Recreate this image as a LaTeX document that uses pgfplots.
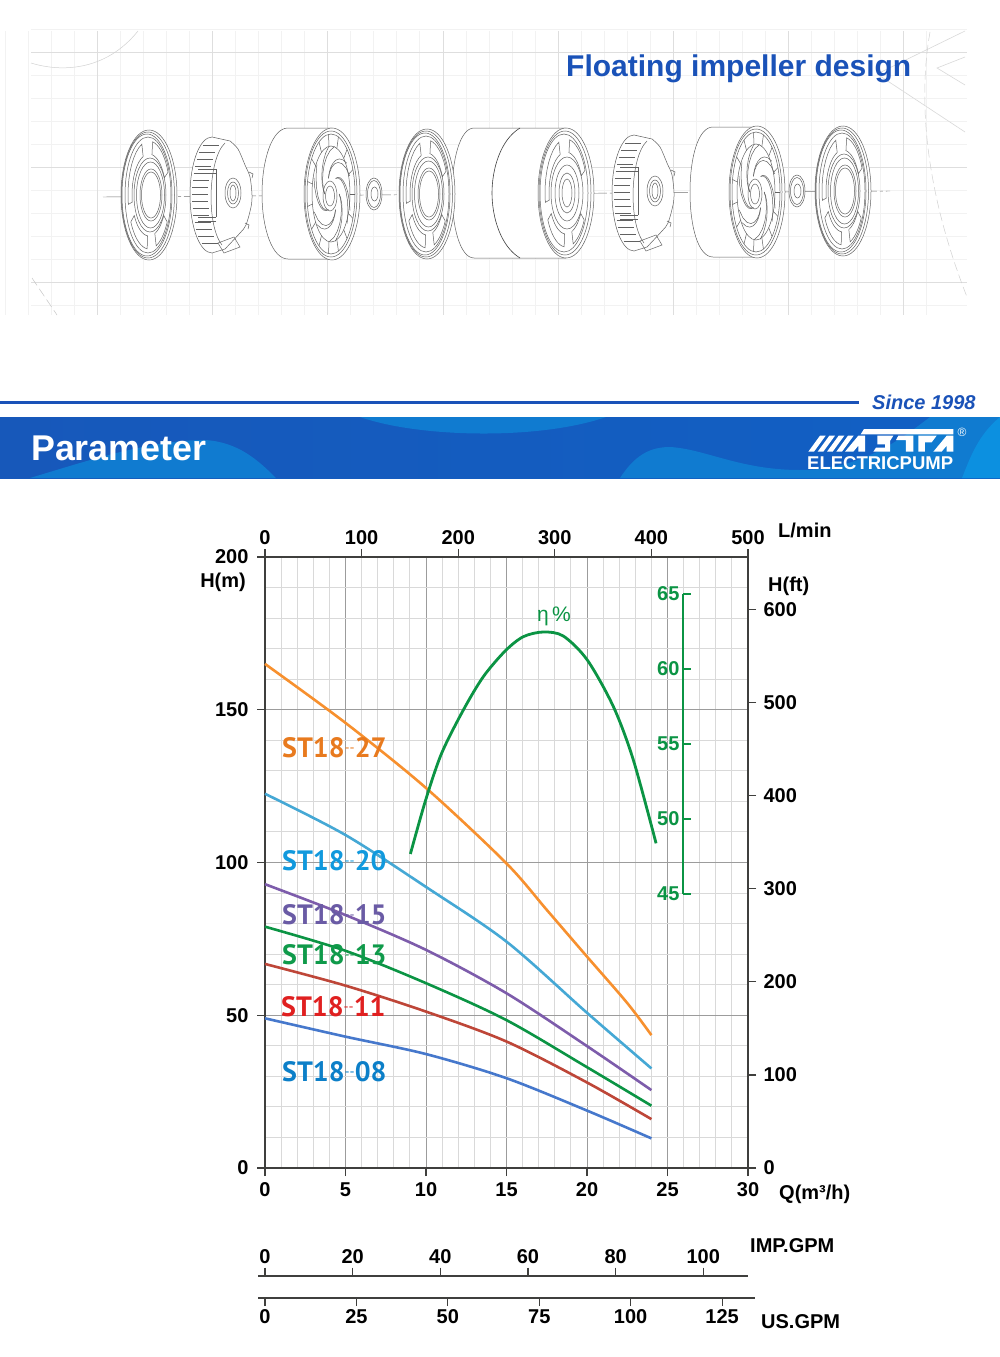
\documentclass[border=0pt]{standalone}
\usepackage{fontspec}
\setmainfont{Liberation Sans}
\newfontfamily\ptsans{PT Sans}
\usepackage{pgfplots}
\pgfplotsset{compat=1.18}
\definecolor{axdark}{HTML}{3F3F3D}
\definecolor{gmaj}{HTML}{9C9C9C}
\definecolor{gmin}{HTML}{D9D9D9}
\definecolor{cOr}{HTML}{F7902E}
\definecolor{cLb}{HTML}{45A8D5}
\definecolor{cPu}{HTML}{7D5CAB}
\definecolor{cGr}{HTML}{0B9444}
\definecolor{cRe}{HTML}{BE4638}
\definecolor{cBl}{HTML}{4678CC}
\definecolor{tOr}{HTML}{E87A1E}
\definecolor{tLb}{HTML}{1199DD}
\definecolor{tPu}{HTML}{6A5BA5}
\definecolor{tGr}{HTML}{0F9A4A}
\definecolor{tRe}{HTML}{E02020}
\definecolor{tBl}{HTML}{0C7FC8}
\definecolor{brand}{HTML}{1A52B8}
\definecolor{bandA}{HTML}{1758BA}
\definecolor{bandB}{HTML}{0F45B0}
\definecolor{bandC}{HTML}{1160C4}
\definecolor{bandL}{HTML}{107BD0}
\definecolor{bandX}{HTML}{0C90E0}
\newcommand\tickf{\fontsize{20}{24}\selectfont\bfseries}
\newcommand\curvelabel[4]{\node[anchor=west,text=#1,inner sep=0pt,font=\fontsize{28}{30}\selectfont\ptsans\bfseries] at (#2,#3) {ST18\raisebox{5pt}{\fontsize{14}{14}\selectfont\mdseries --}#4};}
\tikzset{dl/.style={draw=black!62,line width=.5pt}}
% --- illustration parts, coordinates relative to part centre
\newcommand\disc[2]{\begin{scope}[shift={(#1,#2)},dl]
 \draw[fill=white] (0,0) ellipse [x radius=28,y radius=65];
 \draw (-1,0) ellipse [x radius=26.5,y radius=63];
 \draw (-2,0) ellipse [x radius=25,y radius=61];
 \draw (-1,0) ellipse [x radius=23,y radius=58];
 \draw (1,0) ellipse [x radius=16,y radius=37];
 \draw (1.5,0) ellipse [x radius=14,y radius=33];
 \draw (2,0) ellipse [x radius=11,y radius=26];
 \draw (2,0) ellipse [x radius=9.5,y radius=23];
 \foreach \a/\b in {-80/-25,30/70,95/150,170/250}{
  \draw plot[domain=\a:\b,samples=10] ({21*cos(\x)},{54*sin(\x)})
    -- plot[domain=\b:\a,samples=10] ({17*cos(\x)},{41*sin(\x)}) -- cycle;}
\end{scope}}
\newcommand\washer[2]{\begin{scope}[shift={(#1,#2)},dl]
 \draw[fill=white] (0,0) ellipse [x radius=8,y radius=16];
 \draw (0,0) ellipse [x radius=6.5,y radius=13.5];
 \draw (0.5,0) ellipse [x radius=3.5,y radius=7];
\end{scope}}
\newcommand\impeller[2]{\begin{scope}[shift={(#1,#2)},dl]
 \draw[fill=white] (0,0) ellipse [x radius=28,y radius=66];
 \draw (-1,0) ellipse [x radius=26,y radius=63];
 \draw (-1,0) ellipse [x radius=24,y radius=60];
 \draw (-1,0) ellipse [x radius=19,y radius=48];
 \draw (-2,2) ellipse [x radius=7,y radius=15];
 \draw (-2,2) ellipse [x radius=4.5,y radius=10];
 \foreach \a in {0,60,...,300}{
  \draw plot[domain=0:1,samples=8] ({(.3+.5*\x)*24*cos(\a+80*\x)},{(.3+.5*\x)*60*sin(\a+80*\x)});
  \draw plot[domain=0:1,samples=8] ({(.3+.5*\x)*24*cos(\a+98*\x)},{(.3+.5*\x)*60*sin(\a+98*\x)});}
 \foreach \a in {0,24,...,336}{
  \draw ({19*cos(\a)-1},{48*sin(\a)}) -- ({24*cos(\a)-1},{60*sin(\a)});}
\end{scope}}
\newcommand\hubfront[2]{\begin{scope}[shift={(#1,#2)},dl]
 \draw[fill=white] (0,0) ellipse [x radius=28,y radius=65];
 \draw (-1,0) ellipse [x radius=26,y radius=62];
 \draw (-2,0) ellipse [x radius=24,y radius=59];
 \draw (1,0) ellipse [x radius=16,y radius=36];
 \draw (1,0) ellipse [x radius=12,y radius=28];
 \draw (1,0) ellipse [x radius=8,y radius=20];
 \draw (1,0) ellipse [x radius=5,y radius=14];
 \foreach \a/\b in {-80/-25,30/70,95/150,170/250}{
  \draw plot[domain=\a:\b,samples=10] ({21*cos(\x)},{54*sin(\x)})
    -- plot[domain=\b:\a,samples=10] ({17*cos(\x)},{41*sin(\x)}) -- cycle;}
\end{scope}}
\newcommand\cuppart[2]{\begin{scope}[shift={(#1,#2)},dl]
 \draw[fill=white] (10,-54) -- (-8,-58) arc[start angle=-90,end angle=-270,x radius=22,y radius=58] -- (5,54)
   plot[smooth] coordinates {(5,54) (20,38) (26,30) (31,12) (32,0) (30,-18) (25,-30) (18,-46) (10,-54)};
 \draw (5,-52) .. controls (-12,-36) and (-14,30) .. (2,50);
 \draw (-4,-26) -- (-22,-26) (-4,-22) -- (-22,-22) (-4,-26) -- (-4,22) (-4,22) -- (-22,22) (-4,26) -- (-22,26);
 \foreach \y in {-50,-43,...,50}{
  \pgfmathsetmacro\xa{-8-22*sqrt(1-(\y/58)^2)+2}
  \draw (\xa,\y) -- ({\xa+16},\y);}
 \draw (13,-2) ellipse [x radius=8,y radius=15];
 \draw (13,-2) ellipse [x radius=5.5,y radius=11];
 \draw (13,-2) ellipse [x radius=3,y radius=8];
 \draw (29,-23) -- (33,-21) -- (32,-17) (25,28) -- (29,30) -- (28,34);
 \draw (-2,48) -- (14,42) -- (20,52) -- (4,58) -- cycle;
\end{scope}}
\begin{document}
\begin{tikzpicture}
\useasboundingbox (0pt,0pt) rectangle (1000pt,-1357pt);
\fill[white] (0pt,0pt) rectangle (1000pt,-1357pt);
\begin{scope}[x=1pt,y=-1pt]
 % blueprint grid
 \foreach \i in {0,...,40}{\draw[draw=black!5,line width=.5pt] ({5+\i*23.04},31) -- ({5+\i*23.04},315);}
 \foreach \i in {0,...,12}{\draw[draw=black!5,line width=.5pt] (31,{29.3+\i*23}) -- (967,{29.3+\i*23});}
 \foreach \x in {97.3,212.5,327.7,442.9,558.3,673.3,788.3,903.3}{\draw[draw=black!13,line width=.7pt] (\x,31) -- (\x,315);}
 \foreach \y in {52.3,167,282.3}{\draw[draw=black!13,line width=.7pt] (31,\y) -- (967,\y);}
 \draw[black!18,line width=.5pt] (31,63) .. controls (60,72) and (105,72) .. (138,31);
 \draw[black!22,line width=.5pt,dash pattern=on 9pt off 4pt] (32,278) -- (57,315);
 \draw[black!15,line width=.6pt] (965,31) -- (877,74) -- (965,132);
 \draw[black!15,line width=.6pt] (965,57) -- (937,68) -- (965,85);
 \draw[black!18,line width=.5pt,dash pattern=on 9pt off 4pt] (930,32) .. controls (918,100) and (925,190) .. (967,297);
 % pump parts
 \draw[black!55,line width=.45pt,dash pattern=on 18pt off 3pt on 3pt off 3pt] (103,197) -- (890,191);
 \disc{149}{195}
 \cuppart{220}{195}
 \draw[dl,fill=white] (332,128) -- (288,128) .. controls (272,128) and (262,160) .. (262,194) .. controls (262,228) and (272,259) .. (288,259) -- (332,259);
 \impeller{332}{194}
 \washer{374}{194}
 \draw[dl,fill=white] (566,128) -- (474,128) .. controls (460,128) and (452,160) .. (452,193) .. controls (452,226) and (460,258) .. (474,258) -- (566,258);
 \draw[draw=black!75,line width=.6pt] (520,128) .. controls (500,140) and (492,170) .. (492,193) .. controls (492,216) and (500,246) .. (520,258);
 \disc{427}{194}
 \hubfront{566}{193}
 \cuppart{642}{193}
 \draw[dl,fill=white] (757,127) -- (713,127) .. controls (698,127) and (690,158) .. (690,192) .. controls (690,226) and (698,257) .. (713,257) -- (757,257);
 \impeller{757}{192}
 \washer{797}{191}
 \disc{843}{191}
 % title
 \node[anchor=base west,inner sep=0pt,text=brand,font=\fontsize{30}{32}\selectfont\bfseries] at (566,76) {Floating impeller design};
 % rule and banner
 \fill[brand] (0,400.5) rectangle (859,404);
 \node[anchor=base west,inner sep=0pt,text=brand,font=\fontsize{20}{22}\selectfont\bfseries\itshape] at (872,409.5) {Since 1998};
 \shade[left color=bandA,middle color=bandB,right color=bandC] (0,417) rectangle (1000,478);
 \fill[bandL] (30,478) .. controls (90,460) and (150,440) .. (205,440) .. controls (238,442) and (258,460) .. (276,478) -- cycle;
 \fill[bandL] (360,417) .. controls (420,438) and (540,440) .. (606,417) -- cycle;
 \fill[bandL] (620,478) .. controls (635,455) and (650,447) .. (670,447) .. controls (705,449) and (740,470) .. (800,470) .. controls (860,470) and (900,440) .. (930,417) -- (1000,417) -- (1000,478) -- cycle;
 \fill[bandX] (962,478) .. controls (970,458) and (978,435) .. (1000,417) -- (1000,478) -- cycle;
 \node[anchor=base west,inner sep=0pt,text=white,font=\fontsize{35.8}{38}\selectfont\bfseries] at (31,460) {Parameter};
 \node[anchor=base west,inner sep=0pt,text=white,font=\fontsize{18.5}{20}\selectfont\bfseries] at (807,469) {ELECTRICPUMP};
 \node[anchor=center,inner sep=0pt,text=white,font=\fontsize{12}{12}\selectfont] at (962,432.5) {®};
 \begin{scope}[shift={(790,415)},x=.3333pt,y=-.3333pt]
  \foreach \d in {0,28,56,84}{\fill[white] ({55+\d},110) -- ({72+\d},110) -- ({107+\d},62) -- ({90+\d},62) -- cycle;}
  \fill[white] (165,110) -- (205,62) -- (225,62) -- (225,110) -- (205,110) -- (205,92) -- (190,110) -- cycle;
  \fill[white] (222,42) -- (490,42) -- (490,58) -- (212,58) -- cycle;
  \fill[white] (262,62) -- (310,62) -- (300,78) -- (300,110) -- (250,110) -- (258,98) -- (285,98) -- (285,88) -- (262,88) -- cycle;
  \fill[white] (325,62) -- (370,62) -- (370,110) -- (348,110) -- (348,75) -- (318,75) -- cycle;
  \fill[white] (385,62) -- (440,62) -- (425,82) -- (405,82) -- (405,110) -- (385,110) -- cycle;
  \fill[white] (430,110) -- (470,62) -- (490,62) -- (490,110) -- (470,110) -- (470,92) -- (455,110) -- cycle;
 \end{scope}
\end{scope}
% main axis: Q and H(m)
\begin{axis}[name=main,at={(265pt,-1168pt)},anchor=south west,scale only axis,width=483pt,height=611pt,
 xmin=0,xmax=30,ymin=0,ymax=200,
 axis x line*=bottom,axis y line*=left,
 x axis line style={draw=axdark,line width=2.2pt},
 y axis line style={draw=axdark,line width=1.3pt},
 tick style={draw=axdark,line width=1.2pt},major tick length=8pt,minor tick length=0pt,tick align=outside,
 xtick={0,5,...,30},ytick={0,50,...,200},
 minor xtick={1,2,3,4,6,7,8,9,11,12,13,14,16,17,18,19,21,22,23,24,26,27,28,29},
 minor ytick={10,20,30,40,60,70,80,90,110,120,130,140,160,170,180,190},
 grid=both,major grid style={draw=gmaj,line width=.9pt},minor grid style={draw=gmin,line width=1pt},
 tick label style={font=\tickf},/pgf/number format/assume math mode=true,
 xticklabel style={yshift=-3pt},yticklabel style={xshift=-5pt},
 clip=false,
 every axis plot/.append style={smooth,no marks,line width=2.6pt}]
\addplot[cOr] coordinates {(0,165) (5,145.7) (10,124.4) (15,99.7) (17.5,84.5) (20,69.2) (22.5,54) (24,43.5)};
\addplot[cLb] coordinates {(0,122.5) (5,109) (10,92) (15,74.1) (20,50.8) (24,32.6)};
\addplot[cPu] coordinates {(0,92.9) (5,82.8) (10,71.4) (15,57.2) (20,39.9) (24,25.5)};
\addplot[cGr] coordinates {(0,79) (5,71.1) (10,60.5) (15,48.4) (20,33) (24,20.4)};
\addplot[cRe] coordinates {(0,66.8) (5,59.7) (10,51.2) (15,41.4) (20,28) (24,16)};
\addplot[cBl] coordinates {(0,49) (5,43) (10,37.3) (15,29.4) (20,18.8) (24,9.7)};
\end{axis}
% top axis L/min
\begin{axis}[at={(265pt,-1168pt)},anchor=south west,scale only axis,width=483pt,height=611pt,
 xmin=0,xmax=500,ymin=0,ymax=200,axis x line*=top,axis y line=none,
 x axis line style={draw=axdark,line width=2.2pt},tick style={draw=axdark,line width=1.2pt},major tick length=8pt,tick align=outside,
 xtick={0,100,...,500},tick label style={font=\tickf},/pgf/number format/assume math mode=true,xticklabel style={yshift=1pt}]
\end{axis}
% right axis H(ft)
\begin{axis}[at={(265pt,-1168pt)},anchor=south west,scale only axis,width=483pt,height=611pt,
 xmin=0,xmax=30,ymin=0,ymax=656.2,axis x line=none,axis y line*=right,
 y axis line style={draw=axdark,line width=2.2pt},tick style={draw=axdark,line width=1.2pt},major tick length=8pt,tick align=outside,
 ytick={0,100,...,600},tick label style={font=\tickf},/pgf/number format/assume math mode=true,yticklabel style={xshift=4pt}]
\end{axis}
% efficiency curve, in its own scale
\begin{axis}[at={(265pt,-1168pt)},anchor=south west,scale only axis,width=483pt,height=611pt,
 xmin=0,xmax=30,ymin=26.73,ymax=67.47,hide axis]
\addplot[cGr,smooth,no marks,line width=2.8pt] coordinates {(9.03,47.67) (9.98,51.27) (10.97,54.38) (12.32,57.27) (13.56,59.49) (14.93,61.22) (16.05,62.16) (17.29,62.47) (18.53,62.2) (20.02,60.6) (21.64,57.49) (22.88,53.93) (24.29,48.38)};
\end{axis}
% efficiency scale
\begin{axis}[at={(683pt,-894pt)},anchor=south west,scale only axis,width=8pt,height=300pt,
 xmin=0,xmax=1,ymin=45,ymax=65,axis x line=none,axis y line*=left,
 y axis line style={draw=cGr,line width=1.8pt},tick style={draw=cGr,line width=1.6pt},major tick length=8pt,tick align=inside,
 ytick={45,50,...,65},yticklabel pos=right,
 tick label style={font=\tickf,text=cGr},/pgf/number format/assume math mode=true,yticklabel style={xshift=0pt}]
\end{axis}
% IMP.GPM
\begin{axis}[at={(258pt,-1276.5pt)},anchor=south west,scale only axis,width=490pt,height=1pt,
 xmin=-1.6,xmax=110.2,ymin=0,ymax=1,axis x line*=bottom,axis y line=none,
 x axis line style={draw=axdark,line width=2pt},tick style={draw=axdark,line width=1.1pt},major tick length=8pt,
 x tick label style={yshift=0pt},xtick={0,20,...,100},xtick pos=upper,xticklabel pos=upper,tick align=outside,
 tick label style={font=\tickf},/pgf/number format/assume math mode=true]
\end{axis}
% US.GPM
\begin{axis}[at={(258pt,-1298pt)},anchor=south west,scale only axis,width=497pt,height=1pt,
 xmin=-1.915,xmax=134,ymin=0,ymax=1,axis x line*=bottom,axis y line=none,
 x axis line style={draw=axdark,line width=1.6pt},tick style={draw=axdark,line width=1.1pt},major tick length=8pt,
 xtick={0,25,...,125},tick align=outside,
 tick label style={font=\tickf},/pgf/number format/assume math mode=true]
\end{axis}
\begin{scope}[x=1pt,y=-1pt]
 \curvelabel{tOr}{282}{748}{27}
 \curvelabel{tLb}{282}{861}{20}
 \curvelabel{tPu}{282}{915}{15}
 \curvelabel{tGr}{282}{955}{13}
 \curvelabel{tRe}{281}{1007}{11}
 \curvelabel{tBl}{282}{1072}{08}
 \node[anchor=center,inner sep=0pt,text=cGr,font=\fontsize{21}{22}\selectfont] at (554,616) {η\,\%};
 \begin{scope}[every node/.style={inner sep=0pt,font=\tickf}]
  \node[anchor=east] at (246,582) {H(m)};
  \node[anchor=west] at (768,586) {H(ft)};
  \node[anchor=west] at (778,530) {L/min};
  \node[anchor=west] at (779,1194) {Q(m³/h)};
  \node[anchor=west] at (750,1245.5) {IMP.GPM};
  \node[anchor=west] at (761,1322) {US.GPM};
 \end{scope}
\end{scope}
\end{tikzpicture}
\end{document}
